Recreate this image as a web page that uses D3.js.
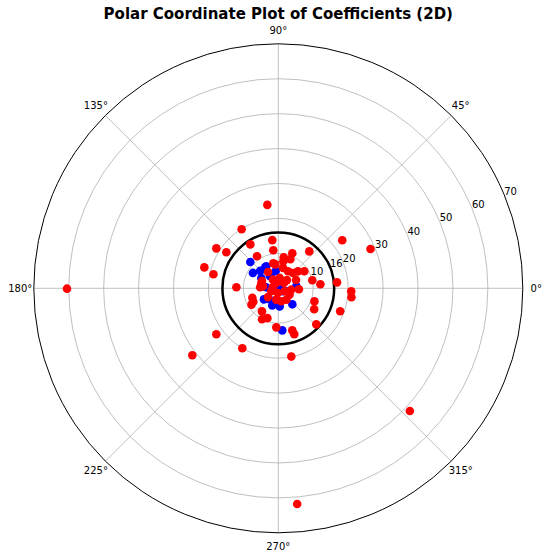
<!DOCTYPE html>
<html>
<head>
<meta charset="utf-8">
<script src="https://cdn.jsdelivr.net/npm/d3@7"></script>
<style>
  body { margin: 0; background: #fff; }
  svg { font-family: "DejaVu Sans", sans-serif; }
</style>
</head>
<body>
<div id="chart"></div>
<script>
// red coefficients: angle (deg) and radius
const redTheta = [97.5, 121.8, 36.9, 97.1, 122.5, 147.2, 145.3, 97.5, 50.0, 123.6,
  80.1, 68.2, 67.5, 79.5, 97.1, 164.2, 167.8, 33.2, 13.2, 5.4,
  5.8, 357.6, 353.0, 178.6, 357.2, 176.9, 155.9, 340.1, 329.7, 339.6,
  199.9, 208.2, 211.3, 234.7, 242.3, 249.9, 267.1, 316.5, 288.4, 289.2,
  216.6, 239.0, 280.8, 217.9, 23.1, 180.1, 275.0, 317.0,
  60.3, 46.1, 40.8, 162.7, 172.6, 121.6, 110.7, 82.3, 203.2, 266.3,
  334.9, 330.7, 353.9, 260.0, 283.0, 305.1, 122.3, 77.0, 220.2, 166.2,
  42.9, 43.7, 25.1, 101.3];
const redR = [24.1, 19.9, 22.9, 13.9, 14.9, 21.1, 18.1, 11.0, 13.8, 11.0,
  9.0, 10.8, 9.0, 7.9, 6.9, 22.0, 19.0, 8.9, 10.0, 12.1,
  16.9, 20.9, 21.1, 12.0, 5.9, 5.2, 5.1, 11.0, 11.9, 18.9,
  7.9, 8.1, 9.0, 8.1, 10.0, 9.1, 11.2, 15.0, 12.7, 13.9,
  22.1, 20.0, 19.9, 31.2, 28.7, 60.5, 62.0, 51.5,
  5.6, 6.1, 7.4, 5.1, 4.4, 2.9, 1.6, 3.0, 2.2, 1.35,
  2.0, 3.7, 3.7, 3.3, 3.8, 4.0, 5.5, 6.0, 3.9, 1.6,
  2.2, 3.4, 5.6, 7.3];

// blue coefficients
const blueTheta = [136.8, 136.1, 121.8, 98.5, 124.0, 148.8, 148.8, 175.4, 217.6, 229.8,
  250.6, 274.4, 311.2, 275.4, 225, 327.4, 342.8, 6.3, 0, 118.6, 117.2];
const blueR = [11.0, 7.2, 7.1, 5.0, 4.2, 8.5, 5.7, 3.5, 5.2, 4.1,
  5.2, 5.2, 6.1, 12.1, 0.4, 1.6, 2.9, 5.2, 0.4, 7.2, 4.4];

const rTicks = [10, 16, 20, 30, 40, 50, 60, 70];
const angleTicks = [0, 45, 90, 135, 180, 225, 270, 315];
const threshold = 16;

const width = 549, height = 559;
const cx = 278.3, cy = 288.3;

const svg = d3.select('#chart').append('svg')
  .attr('width', width)
  .attr('height', height);

const r = d3.scaleLinear().domain([0, 70]).range([0, 244.5]);
const rad = d => d * Math.PI / 180;
const px = (t, v) => cx + r(v) * Math.cos(rad(t));
const py = (t, v) => cy - r(v) * Math.sin(rad(t));

// title
svg.append('text')
  .attr('x', cx)
  .attr('y', 19)
  .attr('text-anchor', 'middle')
  .style('font-size', '15px')
  .style('font-weight', 'bold')
  .text('Polar Coordinate Plot of Coefficients (2D)');

const grid = svg.append('g');

// radial grid circles
grid.selectAll('circle')
  .data(rTicks.filter(d => d < 70))
  .enter()
  .append('circle')
  .attr('cx', cx)
  .attr('cy', cy)
  .attr('r', d => r(d))
  .attr('fill', 'none')
  .attr('stroke', '#b0b0b0')
  .attr('stroke-width', 0.8);

// angular grid lines
grid.selectAll('line')
  .data(angleTicks)
  .enter()
  .append('line')
  .attr('x1', cx)
  .attr('y1', cy)
  .attr('x2', d => px(d, 70))
  .attr('y2', d => py(d, 70))
  .attr('stroke', '#b0b0b0')
  .attr('stroke-width', 0.8);

// outer frame
svg.append('circle')
  .attr('cx', cx)
  .attr('cy', cy)
  .attr('r', r(70))
  .attr('fill', 'none')
  .attr('stroke', '#000')
  .attr('stroke-width', 1);

// angle labels
svg.append('g')
  .selectAll('text')
  .data(angleTicks)
  .enter()
  .append('text')
  .attr('x', d => cx + 258 * Math.cos(rad(d)))
  .attr('y', d => cy - 258 * Math.sin(rad(d)))
  .attr('text-anchor', 'middle')
  .attr('dominant-baseline', 'central')
  .style('font-size', '10px')
  .text(d => d + '°');

// threshold circle
svg.append('circle')
  .attr('cx', cx)
  .attr('cy', cy)
  .attr('r', r(threshold))
  .attr('fill', 'none')
  .attr('stroke', '#000')
  .attr('stroke-width', 2.5);

// points
const blue = d3.zip(blueTheta, blueR);
const red = d3.zip(redTheta, redR);

svg.append('g')
  .selectAll('circle')
  .data(blue)
  .enter()
  .append('circle')
  .attr('cx', d => px(d[0], d[1]))
  .attr('cy', d => py(d[0], d[1]))
  .attr('r', 4.3)
  .attr('fill', '#0000ff');

svg.append('g')
  .selectAll('circle')
  .data(red)
  .enter()
  .append('circle')
  .attr('cx', d => px(d[0], d[1]))
  .attr('cy', d => py(d[0], d[1]))
  .attr('r', 4.3)
  .attr('fill', '#ff0000');

// radial tick labels at 22.5 degrees
svg.append('g')
  .selectAll('text')
  .data(rTicks)
  .enter()
  .append('text')
  .attr('x', d => px(22.5, d))
  .attr('y', d => py(22.5, d))
  .attr('text-anchor', 'start')
  .style('font-size', '10px')
  .text(d => d);
</script>
</body>
</html>
